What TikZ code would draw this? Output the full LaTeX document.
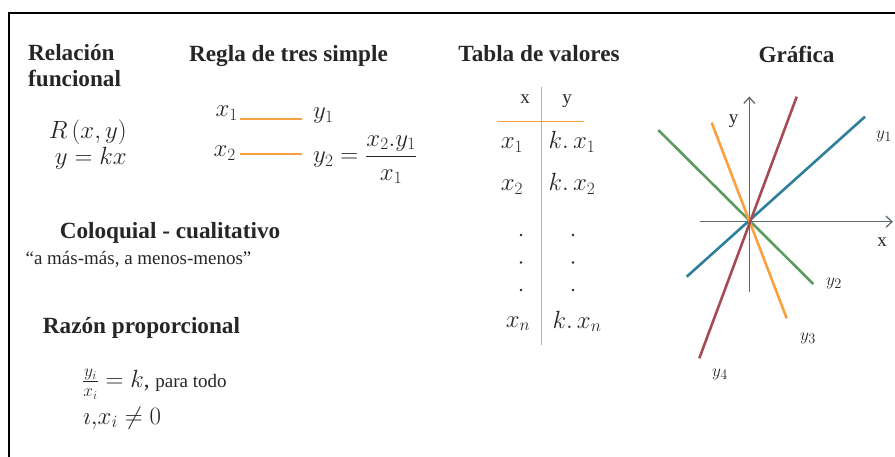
\documentclass[tikz,border=0pt]{standalone}
\usepackage{amsmath}
\usepackage{fontspec}
\setmainfont{Liberation Serif}
\usetikzlibrary{arrows.meta}
\definecolor{txt}{HTML}{262626}
\definecolor{orng}{HTML}{F9A03F}
\definecolor{lblue}{HTML}{2E7F9A}
\definecolor{lgreen}{HTML}{5E9B5E}
\definecolor{lred}{HTML}{A64B51}
\definecolor{axgray}{HTML}{5F6B6B}
\begin{document}
\begin{tikzpicture}[x=1pt,y=-1pt,
  title/.style={font=\fontsize{23.2}{27}\selectfont\bfseries, inner sep=0pt, text=txt},
  body/.style={font=\fontsize{19}{23}\selectfont, inner sep=0pt, text=txt},
  mth/.style={font=\fontsize{23}{27}\selectfont, inner sep=0pt, text=txt},
  lbl/.style={font=\fontsize{19}{22}\selectfont, inner sep=0pt, text=txt},
  ruleline/.style={draw=orng, line width=1.5pt},
  gline/.style={line width=2.6pt},
  axisline/.style={draw=axgray, line width=1.3pt}]
\useasboundingbox (0,0) rectangle (895,457);
% frame (top and left edges)
\coordinate (fTL) at (9,13);
\coordinate (fTR) at (895,13);
\coordinate (fBL) at (9,457);
\draw[line width=2.7pt, black] (fBL) -- (fTL) -- (fTR);

% ---------- titles ----------
\node[title, anchor=base west] (rel1) at (28,61) {Relación};
\node[title, anchor=base west] (rel2) at (28,87) {funcional};
\node[title, anchor=base] (regla) at (288.5,61.5) {Regla de tres simple};
\node[title, anchor=base] (tabla) at (539,61.5) {Tabla de valores};
\node[title, anchor=base] (graf) at (796.5,62.5) {Gráfica};
\node[title, anchor=base] (colo) at (170,238.5) {Coloquial - cualitativo};
\node[body, anchor=base] (colo2) at (138.5,265) {“a más-más, a menos-menos”};
\node[title, anchor=base] (razon) at (141.5,333.5) {Razón proporcional};

% ---------- relacion funcional ----------
\node[mth, anchor=base east] (R) at (127,138.5) {$R\,(x,y)$};
\node[mth, anchor=base east] (ykx) at (127,165) {$y=kx$};

% ---------- regla de tres ----------
\node[mth, anchor=base east] (rx1) at (238,117) {$x_1$};
\node[mth, anchor=base west] (ry1) at (313,119) {$y_1$};
\node[mth, anchor=base east] (rx2) at (236,156.5) {$x_2$};
\node[mth, anchor=base west] (ry2) at (313,163) {$y_2=\dfrac{x_2.y_1}{x_1}$};
\coordinate (l1a) at (240,119);
\coordinate (l1b) at (302,119);
\coordinate (l2a) at (240,154);
\coordinate (l2b) at (302,154);
\draw[ruleline] (l1a) -- (l1b);
\draw[ruleline] (l2a) -- (l2b);

% ---------- tabla de valores ----------
\coordinate (vt) at (541.5,87);
\coordinate (vb) at (541.5,345);
\coordinate (hl) at (497,121.5);
\coordinate (hr) at (584,121.5);
\draw[ruleline] (vt) -- (vb);
\draw[ruleline] (hl) -- (hr);
\node[body, anchor=base] (hx) at (525,104) {x};
\node[body, anchor=base] (hy) at (567,104) {y};
\node[mth, anchor=base] (tx1) at (512,149) {$x_1$};
\node[mth, anchor=base] (tk1) at (572,149) {$k.\,x_1$};
\node[mth, anchor=base] (tx2) at (512,191) {$x_2$};
\node[mth, anchor=base] (tk2) at (572,191) {$k.\,x_2$};
\foreach \px in {521,573}{
  \foreach \py in {235,262.5,290}{
    \fill[txt] (\px,\py) circle[radius=1.4pt];
  }
}
\node[mth, anchor=base] (txn) at (518,327) {$x_n$};
\node[mth, anchor=base] (tkn) at (577,328) {$k.\,x_n$};

% ---------- razon proporcional ----------
\node[mth, anchor=base west] (rz1) at (82,388) {$\frac{y_i}{x_i}=k$, {\fontsize{19}{23}\selectfont para todo}};
\node[mth, anchor=base west] (rz2) at (83,424) {$\imath{,}x_i\neq 0$};

% ---------- grafica ----------
\coordinate (O) at (749.3,221.7);
\coordinate (yb) at (749.3,291.7);
\coordinate (yt) at (749.3,96.5);
\coordinate (xl) at (700,221.7);
\coordinate (xr) at (893,221.7);
\draw[axisline, -{Straight Barb[length=6pt,width=11pt]}] (yb) -- (yt);
\draw[axisline, -{Straight Barb[length=6pt,width=11pt]}] (xl) -- (xr);
\coordinate (b1) at (686.7,276.7);
\coordinate (b2) at (865,116.7);
\coordinate (g1) at (658.3,130);
\coordinate (g2) at (813.3,284);
\coordinate (o1) at (711.7,122.7);
\coordinate (o2) at (786.7,318.3);
\coordinate (r1) at (796.7,96.7);
\coordinate (r2) at (699.3,358.3);
\draw[gline, draw=lgreen] (g1) -- (g2);
\draw[gline, draw=lblue] (b1) -- (b2);
\draw[gline, draw=orng] (o1) -- (o2);
\draw[gline, draw=lred] (r1) -- (r2);
\node[body] (ylab) at (733.5,121) {y};
\node[body] (xlab) at (882,242) {x};
\node[lbl] (ly1) at (884,136) {$y_1$};
\node[lbl] (ly2) at (834,283) {$y_2$};
\node[lbl] (ly3) at (808,338) {$y_3$};
\node[lbl] (ly4) at (720,374) {$y_4$};
\end{tikzpicture}
\end{document}
